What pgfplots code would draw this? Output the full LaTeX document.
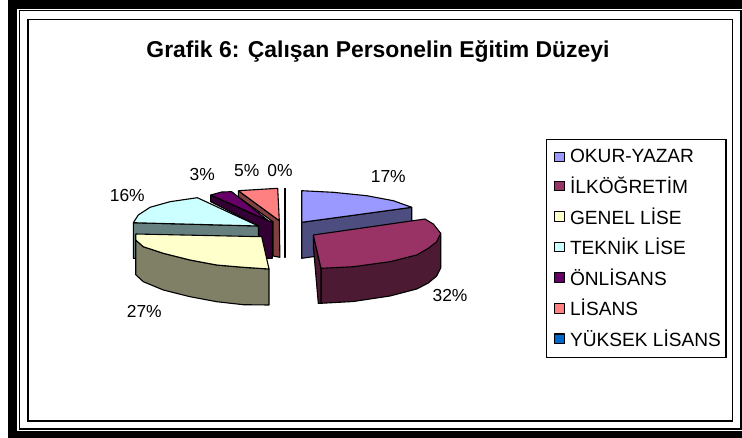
\documentclass[border=0pt]{standalone}
\usepackage{fontspec}
\setmainfont{Liberation Sans}
\usepackage{pgfplots}
\pgfplotsset{compat=1.18}
\definecolor{c1}{HTML}{9999FF}\definecolor{d1}{HTML}{4D4D80}
\definecolor{c2}{HTML}{993366}\definecolor{d2}{HTML}{4D1A33}
\definecolor{c3}{HTML}{FFFFCC}\definecolor{d3}{HTML}{808066}
\definecolor{c4}{HTML}{CCFFFF}\definecolor{d4}{HTML}{668080}
\definecolor{c5}{HTML}{660066}\definecolor{d5}{HTML}{330033}
\definecolor{c6}{HTML}{FF8080}\definecolor{d6}{HTML}{804040}
\definecolor{c7}{HTML}{0066CC}
\pgfplotsset{
  face/.style={draw=black,line width=1.1bp,line join=round,fill=#1},
  swatch/.style={/pgfplots/legend image code/.code={
    \path[draw=none,fill=none] (0bp,0bp) -- (19bp,0bp);
    \draw[##1,line width=1.1bp] (5bp,-4.8bp) rectangle (15.5bp,4.8bp);}},
}
\begin{document}
\begin{tikzpicture}
\begin{axis}[
  scale only axis,width=742bp,height=438bp,
  xmin=0,xmax=742,ymin=0,ymax=438,y dir=reverse,
  hide axis,clip=true,
  legend cell align=left,
  legend style={at={(axis cs:545.5,139)},anchor=north west,
    draw=black,line width=1.1bp,fill=white,
    font=\fontsize{19.2}{21}\selectfont,
    inner xsep=3bp,inner ysep=8bp,row sep=8.5bp,
    /tikz/every even column/.append style={column sep=0bp}},
]
% page frame
\fill[white] (axis cs:0,0) rectangle (axis cs:742,438);
\fill[black] (axis cs:8,0) rectangle (axis cs:742,9.5);
\fill[black] (axis cs:8,0) rectangle (axis cs:17,438);
\fill[black] (axis cs:8,431) rectangle (axis cs:742,438);
\draw[black,line width=1.3bp] (axis cs:19.5,10.5) -- (axis cs:741,10.5) -- (axis cs:741,429) -- (axis cs:19.5,429) -- cycle;
\draw[black,line width=1.7bp] (axis cs:28,19.5) -- (axis cs:732.5,19.5) -- (axis cs:732.5,421) -- (axis cs:28,421) -- cycle;
% side faces
\addplot[face=d6,forget plot] coordinates {(238.3,190.7)(279.3,220.7)(279.9,257.3)(273,256)(273,221.7)(238.3,197) (238.3,190.7)};
\addplot[face=d5,forget plot] coordinates {(210.7,195)(268.3,220.7)(272.3,221.7)(272.3,258.3)(260,258.3)(258.3,226)(210.7,201.7) (210.7,195)};
\addplot[face=d4,forget plot] coordinates {(133.3,222.7)(258.3,226)(258.3,262)(133.3,258.3) (133.3,222.7)};
\addplot[face=d1,forget plot] coordinates {(301.7,222.3)(411.7,207.3)(411.7,243)(301.7,258.3) (301.7,222.3)};
% slices (top faces)
\addplot[face=c1,swatch] coordinates {(301.7,222.3)(301.7,190.7)(333.3,192.3)(366.7,195.7)(393.3,200.7)(411.7,207.3) (301.7,222.3)};
\addlegendentry{OKUR-YAZAR}
\addplot[face=d2,forget plot] coordinates {(321,268.3)(321,303.3)(353.3,301.5)(390,296)(416.7,289)(428.3,283)(436.7,276)(440.7,268)(440.7,233.3)(321,268.3)};
\addplot[face=d2,forget plot] coordinates {(313.3,235)(321,268.3)(321,303.3)(318.3,303.3)(313.3,246)(313.3,235)};
\addplot[face=c2,swatch] coordinates {(313.3,235)(425,219)(433.3,224)(440.7,233.3)(436.7,241.7)(428.3,248.3)(416.7,255)(390,261.7)(353.3,266.7)(321,268.3) (313.3,235)};
\addlegendentry{İLKÖĞRETİM}
\addplot[face=d3,forget plot] coordinates {(135.7,240)(143.3,246.7)(163.3,253.3)(190,260)(216.7,265)(243.3,267.3)(269,269)(269,305)(243.3,304.7)(216.7,301.7)(190,296.7)(163.3,290)(143.3,281.7)(135.7,274.7) (135.7,240)};
\addplot[face=c3,swatch] coordinates {(135.7,234)(261.7,236.7)(269,269)(243.3,267.3)(216.7,265)(190,260)(163.3,253.3)(143.3,246.7)(135.7,240) (135.7,234)};
\addlegendentry{GENEL LİSE}
\addplot[face=c4,swatch] coordinates {(258.3,226)(133.3,222.7)(138.3,215)(150,207.3)(170,201.7)(197.3,197.7) (258.3,226)};
\addlegendentry{TEKNİK LİSE}
\addplot[face=c5,swatch] coordinates {(231.7,191.7)(268.3,220.7)(210.7,195)(221.7,192) (231.7,191.7)};
\addlegendentry{ÖNLİSANS}
\addplot[face=c6,swatch] coordinates {(238.3,190.7)(277.7,188.3)(279.3,220.7) (238.3,190.7)};
\addlegendentry{LİSANS}
\addplot[face=c7,swatch] coordinates {(284.3,188.3)(284.3,257)(285.2,257)(285.2,188.3) (284.3,188.3)};
\addlegendentry{YÜKSEK LİSANS}
% labels
\node[font=\bfseries\fontsize{23}{26}\selectfont] at (axis cs:378,52) {Grafik 6: Çalışan Personelin Eğitim Düzeyi};
\begin{scope}[every node/.style={font=\fontsize{17.5}{20}\selectfont}]
\node at (axis cs:388.3,176.7) {17\%};
\node at (axis cs:450,295.7) {32\%};
\node at (axis cs:144.3,311) {27\%};
\node at (axis cs:127.3,195) {16\%};
\node at (axis cs:202.3,174.3) {3\%};
\node at (axis cs:246.7,170.7) {5\%};
\node at (axis cs:280,170.7) {0\%};
\end{scope}
\end{axis}
\end{tikzpicture}
\end{document}
